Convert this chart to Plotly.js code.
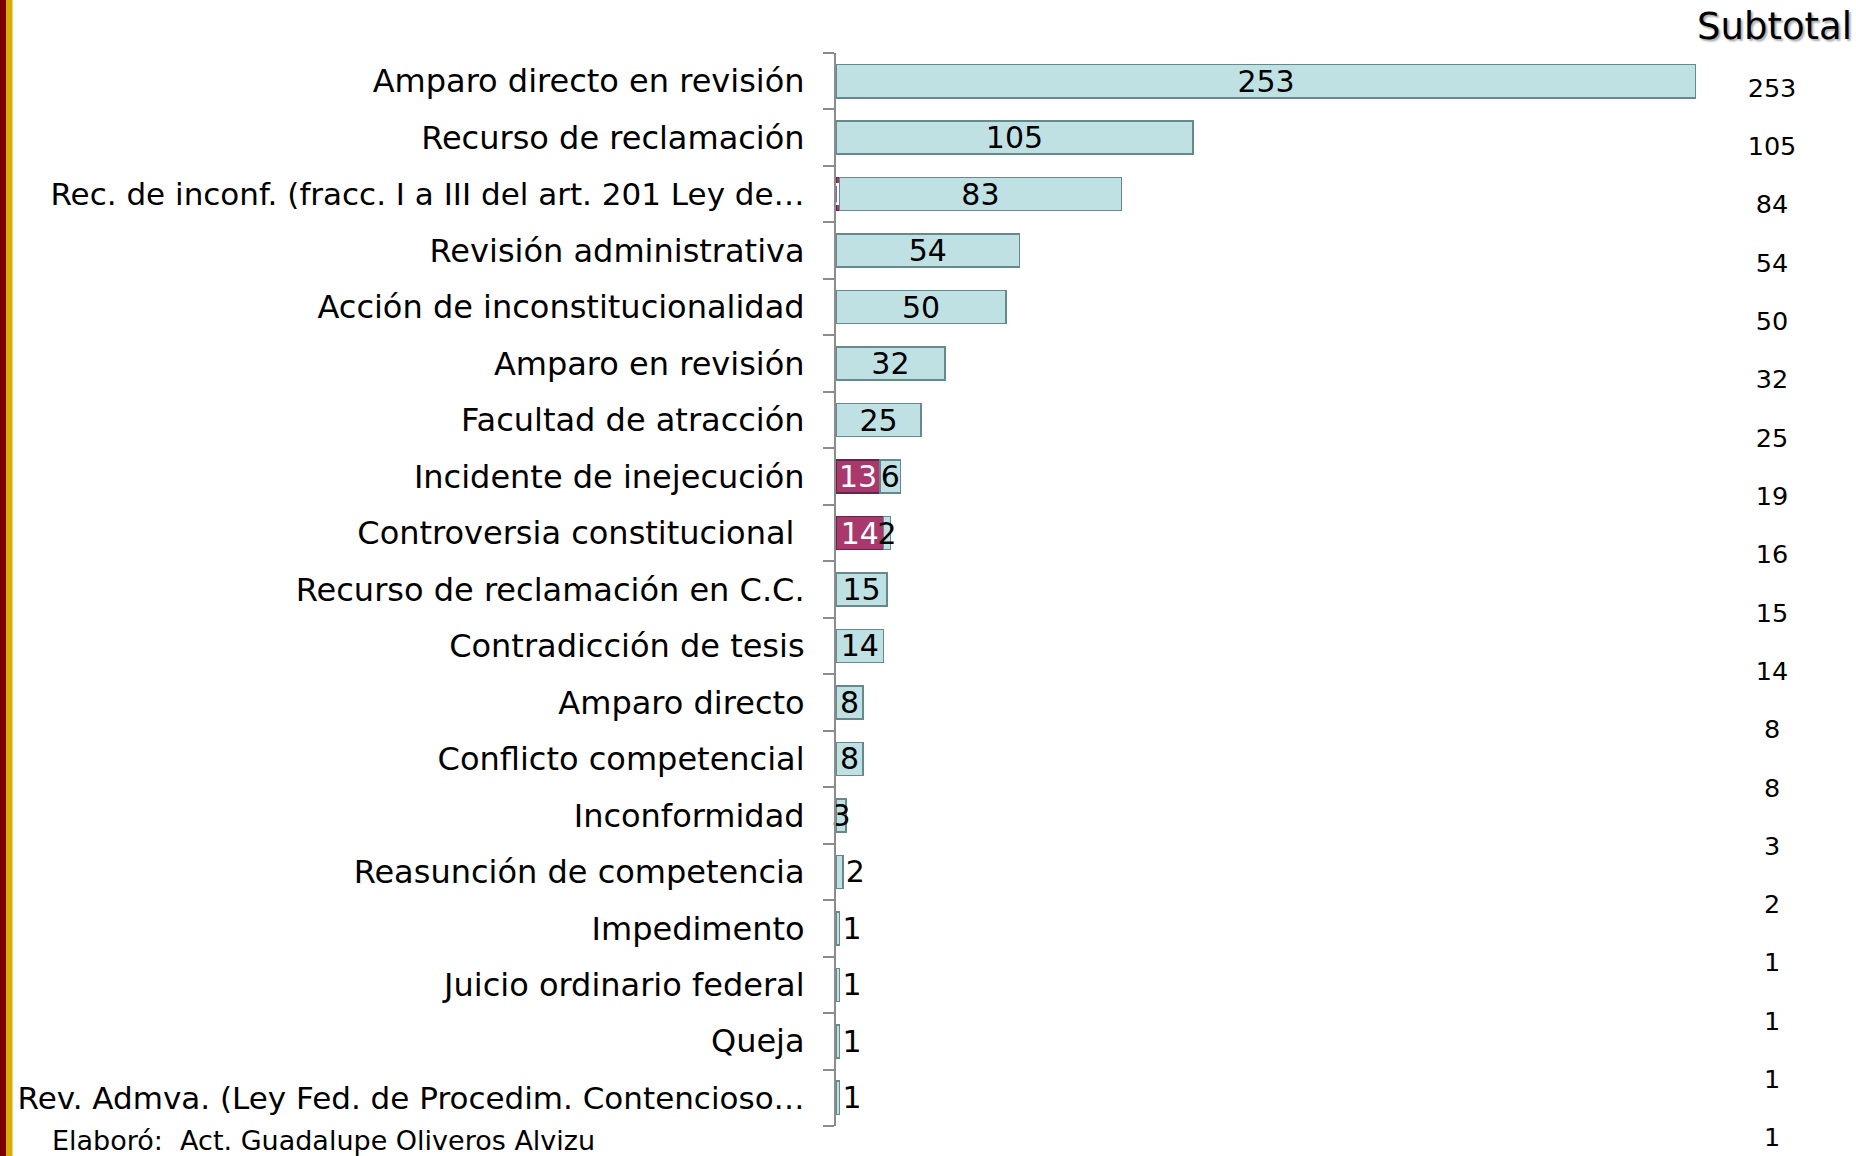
<!DOCTYPE html>
<html>
<head>
<meta charset="utf-8">
<script src="https://cdn.plot.ly/plotly-3.0.1.min.js"></script>
<style>
  html, body { margin: 0; padding: 0; background: #ffffff; }
  #chart { width: 1856px; height: 1156px; }
</style>
</head>
<body>
<div id="chart"></div>
<script>
// ---------- data ----------
const categories = [
  "Amparo directo en revisión",
  "Recurso de reclamación",
  "Rec. de inconf. (fracc. I a III del art. 201 Ley de…",
  "Revisión administrativa",
  "Acción de inconstitucionalidad",
  "Amparo en revisión",
  "Facultad de atracción",
  "Incidente de inejecución",
  "Controversia constitucional\u00a0",
  "Recurso de reclamación en C.C.",
  "Contradicción de tesis",
  "Amparo directo",
  "Conflicto competencial",
  "Inconformidad",
  "Reasunción de competencia",
  "Impedimento",
  "Juicio ordinario federal",
  "Queja",
  "Rev. Admva. (Ley Fed. de Procedim. Contencioso…"
];
const serieMagenta = [0, 0, 1, 0, 0, 0, 0, 13, 14, 0, 0, 0, 0, 0, 0, 0, 0, 0, 0];
const serieAzul    = [253, 105, 83, 54, 50, 32, 25, 6, 2, 15, 14, 8, 8, 3, 2, 1, 1, 1, 1];
const subtotales   = [253, 105, 84, 54, 50, 32, 25, 19, 16, 15, 14, 8, 8, 3, 2, 1, 1, 1, 1];
const subtotalHeader = "Subtotal";
const footerText = "Elaboró:  Act. Guadalupe Oliveros Alvizu";

// ---------- layout helpers ----------
const W = 1856, H = 1156;
const L = 836, R = 0, T = 53, B = 0;
const PW = W - L - R, PH = H - T - B;
const px2x = px => (px - L) / PW;
const py2y = py => 1 - (py - T) / PH;
const barEndPx = 1696;
const plotBottomPx = 1126;
const mainDomainEnd = px2x(barEndPx);

// subtotal column: row centres (pixels) of first and last entries
const subFirstPx = 90.5, subLastPx = 1140;
const n = categories.length;
const fFirst = (subFirstPx - T) / PH, fLast = (subLastPx - T) / PH;
const span = (n - 1) / (fLast - fFirst);
const r0 = -fFirst * span, r1 = r0 + span;

const FONT = "DejaVu Sans, Verdana, sans-serif";

// long (truncated) labels are drawn a touch smaller so they stay on the page
const tickText = categories.map(c => c.length > 40
  ? '<span style="font-size:31px">' + c + '</span>' : c);

const azulPos = serieAzul.map((v, i) => (serieMagenta[i] === 0 && v <= 2) ? 'outside' : 'inside');

const traces = [
  {
    type: 'bar', orientation: 'h', name: 'Serie 1',
    y: categories, x: serieMagenta,
    text: serieMagenta.map(v => v > 0 ? String(v) : ''),
    textposition: 'inside', insidetextanchor: 'middle', textangle: 0,
    textfont: { family: FONT, size: 30, color: '#ffffff' },
    marker: { color: '#a9386c', line: { color: '#6e2046', width: 1.5 } },
    hoverinfo: 'skip'
  },
  {
    type: 'bar', orientation: 'h', name: 'Serie 2',
    y: categories, x: serieAzul,
    text: serieAzul.map(v => String(v)),
    textposition: azulPos, insidetextanchor: 'middle', textangle: 0,
    textfont: { family: FONT, size: 30, color: '#000000' },
    cliponaxis: false,
    marker: { color: '#c0e1e4', line: { color: '#66898c', width: 1.5 } },
    hoverinfo: 'skip'
  },
  {
    type: 'scatter', mode: 'text', name: 'Subtotal',
    xaxis: 'x2', yaxis: 'y2',
    y: subtotales.map((v, i) => i), x: subtotales.map(() => 0.475),
    text: subtotales.map(v => String(v)),
    textposition: 'middle center',
    textfont: { family: FONT, size: 25.5, color: '#000000' },
    cliponaxis: false, showlegend: false, hoverinfo: 'skip'
  }
];

// border stripes on the left edge
const shapes = [
  { type: 'rect', xref: 'paper', yref: 'paper', x0: px2x(0), x1: px2x(6), y0: py2y(H), y1: py2y(0),
    fillcolor: '#7a0000', line: { width: 0 }, layer: 'below' },
  { type: 'rect', xref: 'paper', yref: 'paper', x0: px2x(6), x1: px2x(12.5), y0: py2y(H), y1: py2y(0),
    fillcolor: '#d8ad08', line: { width: 0 }, layer: 'below' }
];

const layout = {
  width: W, height: H,
  margin: { l: L, r: R, t: T, b: B, pad: 0 },
  paper_bgcolor: '#ffffff', plot_bgcolor: '#ffffff',
  showlegend: false,
  barmode: 'stack', bargap: 0.415,
  uniformtext: { mode: 'show', minsize: 30 },
  xaxis: {
    domain: [0, mainDomainEnd], range: [0, 253],
    visible: false, fixedrange: true
  },
  yaxis: {
    type: 'category', categoryarray: categories, categoryorder: 'array',
    tickmode: 'array', tickvals: categories, ticktext: tickText,
    autorange: 'reversed',
    domain: [py2y(plotBottomPx), 1],
    showline: true, linecolor: '#8c8c8c', linewidth: 2,
    ticks: 'outside', tickson: 'boundaries', ticklen: 11, tickwidth: 2, tickcolor: '#8c8c8c',
    ticklabelstandoff: 23,
    tickfont: { family: FONT, size: 32, color: '#000000' },
    showgrid: false, zeroline: false, fixedrange: true
  },
  xaxis2: {
    domain: [mainDomainEnd, 1], range: [0, 1], anchor: 'y2',
    visible: false, fixedrange: true
  },
  yaxis2: {
    type: 'linear', domain: [0, 1], anchor: 'x2',
    range: [r1, r0],
    visible: false, fixedrange: true
  },
  shapes: shapes,
  annotations: [
    { xref: 'paper', yref: 'paper', x: px2x(1774), y: py2y(27), xanchor: 'center', yanchor: 'middle',
      text: subtotalHeader, showarrow: false,
      font: { family: FONT, size: 37, color: '#000000', shadow: '2px 2px 2px #aaaaaa' } },
    { xref: 'paper', yref: 'paper', x: px2x(50), y: py2y(1140), xanchor: 'left', yanchor: 'middle',
      text: footerText, showarrow: false,
      font: { family: FONT, size: 27, color: '#000000' } }
  ]
};

Plotly.newPlot('chart', traces, layout, { displayModeBar: false, staticPlot: true });
</script>
</body>
</html>
